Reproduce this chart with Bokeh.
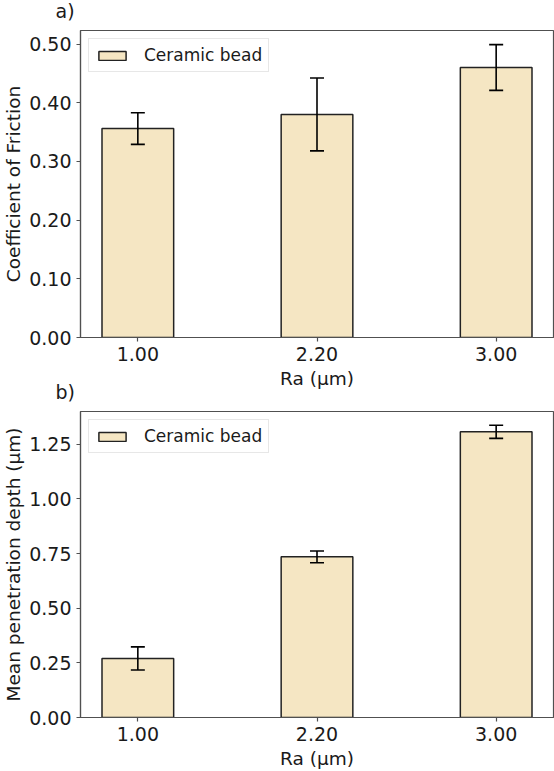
from bokeh.plotting import figure
from bokeh.layouts import column
from bokeh.models import (Range1d, FixedTicker, NumeralTickFormatter, Whisker,
                          TeeHead, ColumnDataSource, Legend, LegendItem, Title)
from bokeh.embed import file_html
from bokeh.resources import INLINE

# Surface roughness categories (Ra, µm)
roughness = ["1.00", "2.20", "3.00"]

# a) coefficient of friction, mean and standard deviation
cof_mean = [0.356, 0.380, 0.460]
cof_err = [0.027, 0.062, 0.039]

# b) mean penetration depth (µm), mean and standard deviation
depth_mean = [0.270, 0.735, 1.307]
depth_err = [0.053, 0.027, 0.030]

cof_ticks = [0.0, 0.1, 0.2, 0.3, 0.4, 0.5]
depth_ticks = [0.0, 0.25, 0.5, 0.75, 1.0, 1.25]

FONT = "DejaVu Sans"
BAR_FILL = "#f5e6c3"
BAR_EDGE = "#222222"
SPINE = "#505050"
TEXT = "#1a1a1a"


def make_panel(means, errs, y_end, yticks, ylabel, letter, letter_standoff,
               height, border_top, border_bottom, margin):
    xs = list(range(len(roughness)))
    src = ColumnDataSource(dict(
        x=xs, top=means,
        upper=[m + e for m, e in zip(means, errs)],
        lower=[m - e for m, e in zip(means, errs)],
    ))
    p = figure(width=554, height=height, output_backend="svg", toolbar_location=None,
               x_range=Range1d(-0.32, len(xs) - 1 + 0.32), y_range=Range1d(0, y_end),
               min_border_left=80, min_border_right=1,
               min_border_top=border_top, min_border_bottom=border_bottom,
               margin=margin)
    p.background_fill_color = "white"
    p.border_fill_alpha = 0.0
    p.outline_line_color = SPINE
    p.outline_line_width = 1.2
    p.grid.visible = False

    # panel letter, left of the frame
    p.add_layout(Title(text=letter, align="left", offset=-25, standoff=letter_standoff,
                       text_font=FONT, text_font_size="19px", text_font_style="normal",
                       text_color=TEXT), "above")

    bars = p.vbar(x="x", top="top", width=0.4, source=src,
                  fill_color=BAR_FILL, line_color=BAR_EDGE, line_width=1.5)

    w = Whisker(base="x", upper="upper", lower="lower", source=src,
                line_color="black", line_width=1.6,
                upper_head=TeeHead(size=14, line_color="black", line_width=1.6),
                lower_head=TeeHead(size=14, line_color="black", line_width=1.6))
    w.level = "overlay"
    p.add_layout(w)

    for ax in (p.xaxis[0], p.yaxis[0]):
        ax.axis_line_color = SPINE
        ax.axis_line_width = 1.2
        ax.major_tick_line_color = SPINE
        ax.major_tick_line_width = 1.2
        ax.major_tick_out = 4
        ax.major_tick_in = 0
        ax.minor_tick_line_color = None
        ax.major_label_text_font = FONT
        ax.major_label_text_font_size = "19px"
        ax.major_label_text_color = TEXT
        ax.major_label_standoff = 5
        ax.axis_label_text_font = FONT
        ax.axis_label_text_font_size = "18.5px"
        ax.axis_label_text_font_style = "normal"
        ax.axis_label_text_color = TEXT
    p.xaxis.axis_label_standoff = 4
    p.yaxis.axis_label_standoff = 2

    p.xaxis.ticker = FixedTicker(ticks=xs)
    p.xaxis.major_label_overrides = {i: lab for i, lab in enumerate(roughness)}
    p.xaxis.axis_label = "Ra (µm)"
    p.yaxis.ticker = FixedTicker(ticks=yticks)
    p.yaxis.formatter = NumeralTickFormatter(format="0.00")
    p.yaxis.axis_label = ylabel

    legend = Legend(items=[LegendItem(label="Ceramic bead", renderers=[bars])],
                    location="top_left", margin=8, padding=6, spacing=0,
                    glyph_width=34, glyph_height=11, label_height=19,
                    label_standoff=15,
                    label_text_font=FONT, label_text_font_size="17px",
                    label_text_color=TEXT,
                    border_line_color="#d0d0d0", border_line_width=1,
                    background_fill_color="white", background_fill_alpha=0.8)
    p.add_layout(legend)
    return p


pa = make_panel(cof_mean, cof_err, 0.523, cof_ticks, "Coefficient of Friction",
                "a)", 18, 410, 45, 58, (-15, 0, 0, 0))
pb = make_panel(depth_mean, depth_err, 1.40, depth_ticks, "Mean penetration depth (µm)",
                "b)", 17, 401, 41, 54, (-25, 0, 0, 0))

layout = column(pa, pb, spacing=0, styles={"background-color": "white"})

with open("out.html", "w") as f:
    f.write(file_html(layout, INLINE))
